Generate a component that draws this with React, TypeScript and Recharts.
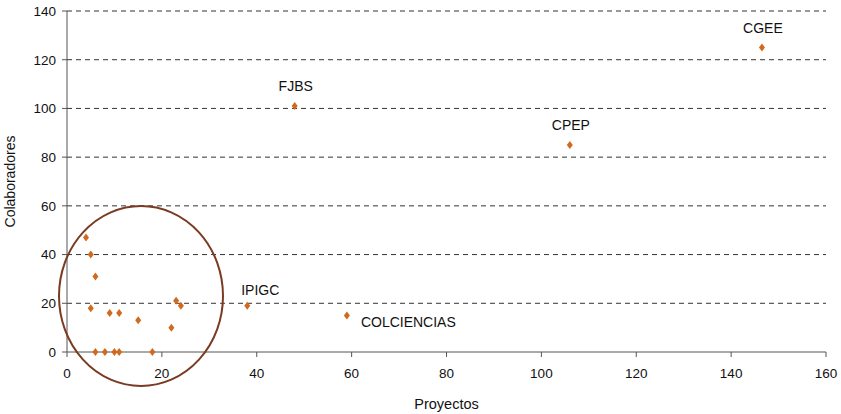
import React from "react";
import {
  ScatterChart,
  Scatter,
  XAxis,
  YAxis,
  CartesianGrid,
  ReferenceDot,
} from "recharts";

const proyectos = [4, 5, 6, 5, 6, 8, 9, 10, 11, 11, 15, 18, 22, 23, 24, 38, 59, 48, 106, 146.5];
const colaboradores = [47, 40, 31, 18, 0, 0, 16, 0, 16, 0, 13, 0, 10, 21, 19, 19, 15, 101, 85, 125];
const nombres = [
  "", "", "", "", "", "", "", "", "", "", "", "", "", "", "",
  "IPIGC", "COLCIENCIAS", "FJBS", "CPEP", "CGEE",
];
const xTicks = [0, 20, 40, 60, 80, 100, 120, 140, 160];
const yTicks = [0, 20, 40, 60, 80, 100, 120, 140];

// zona marcada (círculo)
const zonaCentro = { x: 15.6, y: 23 };

const FONT = "'Liberation Sans', Arial, sans-serif";
const NARANJA = "#d06a1e";
const MARRON = "#7a3b22";

const datos = proyectos.map((p, i) => ({
  proyectos: p,
  colaboradores: colaboradores[i],
  nombre: nombres[i],
}));

// dónde va cada etiqueta respecto al punto
const etiquetaPos: Record<string, { dx: number; dy: number; anchor: "start" | "middle" }> = {
  IPIGC: { dx: 13, dy: -16, anchor: "middle" },
  COLCIENCIAS: { dx: 14, dy: 7, anchor: "start" },
};

function Rombo(props: any) {
  const { cx, cy, payload } = props;
  const pos = etiquetaPos[payload?.nombre] ?? { dx: 1, dy: -20, anchor: "middle" };
  return (
    <g>
      <polygon
        points={`${cx},${cy - 4} ${cx + 3},${cy} ${cx},${cy + 4} ${cx - 3},${cy}`}
        fill={NARANJA}
      />
      {payload?.nombre ? (
        <text
          x={cx + pos.dx}
          y={cy + pos.dy}
          textAnchor={pos.anchor}
          dominantBaseline="central"
          fontFamily={FONT}
          fontSize={14}
          fill="#111"
        >
          {payload.nombre}
        </text>
      ) : null}
    </g>
  );
}

function Circulo(props: any) {
  const { cx, cy } = props;
  return <ellipse cx={cx} cy={cy} rx={82} ry={90} fill="none" stroke={MARRON} strokeWidth={2} />;
}

export default function App() {
  return (
    <div style={{ position: "absolute", left: 0, top: 0 }}>
      <ScatterChart
        width={841}
        height={414}
        margin={{ top: 11, right: 15, left: 0, bottom: 0 }}
      >
        <CartesianGrid
          vertical={false}
          stroke="#333"
          strokeDasharray="5 4"
          horizontalValues={yTicks.filter((t) => t > 0)}
        />
        <XAxis
          type="number"
          dataKey="proyectos"
          domain={[0, 160]}
          ticks={xTicks}
          interval={0}
          height={62}
          tickSize={5}
          tickMargin={11}
          stroke="#555"
          tick={{ fill: "#111", fontSize: 13.5, fontFamily: FONT }}
          label={{
            value: "Proyectos",
            position: "insideBottom",
            offset: 5,
            style: { fill: "#111", fontSize: 14.5, fontFamily: FONT },
          }}
        />
        <YAxis
          type="number"
          dataKey="colaboradores"
          domain={[0, 140]}
          ticks={yTicks}
          interval={0}
          width={67}
          tickSize={5}
          tickMargin={6}
          stroke="#555"
          tick={{ fill: "#111", fontSize: 13.5, fontFamily: FONT }}
          label={{
            value: "Colaboradores",
            angle: -90,
            position: "insideLeft",
            offset: 10,
            style: { textAnchor: "middle", fill: "#111", fontSize: 14, fontFamily: FONT },
          }}
        />
        <Scatter data={datos} shape={<Rombo />} isAnimationActive={false} />
        <ReferenceDot
          x={zonaCentro.x}
          y={zonaCentro.y}
          ifOverflow="visible"
          shape={<Circulo />}
        />
      </ScatterChart>
    </div>
  );
}
